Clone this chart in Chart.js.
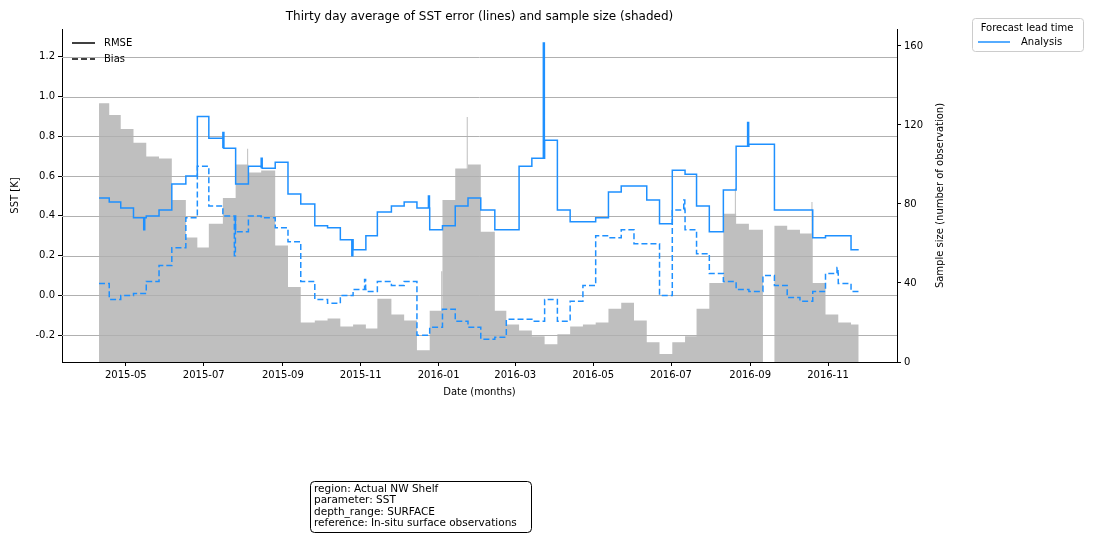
<!DOCTYPE html>
<html>
<head>
<meta charset="utf-8">
<script src="https://cdn.jsdelivr.net/npm/chart.js@4.4.1/dist/chart.umd.min.js"></script>
<style>
  html, body { margin: 0; padding: 0; background: #fff; }
  #wrap { width: 1094px; height: 540px; }
</style>
</head>
<body>
<div id="wrap"><canvas id="sstChart" width="1094" height="540"></canvas></div>
<script>
// start date of each 30-day-average step (last entry = end of series)
const stepDates = [
  '2015-04-10','2015-04-18','2015-04-27','2015-05-07','2015-05-17','2015-05-27','2015-06-06','2015-06-17','2015-06-26','2015-07-05',
  '2015-07-16','2015-07-26','2015-08-05','2015-08-15','2015-08-26','2015-09-05','2015-09-15','2015-09-26','2015-10-06','2015-10-16',
  '2015-10-26','2015-11-05','2015-11-14','2015-11-25','2015-12-05','2015-12-15','2015-12-25','2016-01-04','2016-01-14','2016-01-24',
  '2016-02-03','2016-02-14','2016-02-23','2016-03-04','2016-03-14','2016-03-24','2016-04-03','2016-04-13','2016-04-23','2016-05-03',
  '2016-05-13','2016-05-23','2016-06-02','2016-06-12','2016-06-22','2016-07-02','2016-07-12','2016-07-21','2016-07-31','2016-08-11',
  '2016-08-21','2016-08-31','2016-09-11','2016-09-20','2016-09-30','2016-10-10','2016-10-20','2016-10-30','2016-11-09','2016-11-19',
  '2016-11-25'
];

const rmse = [
  0.49,0.47,0.44,0.39,0.40,0.43,0.56,0.60,0.90,0.79,
  0.74,0.56,0.65,0.64,0.67,0.51,0.46,0.35,0.34,0.28,
  0.23,0.30,0.42,0.45,0.47,0.44,0.33,0.35,0.45,0.49,
  0.43,0.33,0.33,0.65,0.69,0.78,0.43,0.37,0.37,0.39,
  0.52,0.55,0.55,0.48,0.36,0.63,0.61,0.45,0.32,0.53,
  0.75,0.76,0.76,0.43,0.43,0.43,0.29,0.30,0.30,0.23
];

const bias = [
  0.06,-0.02,0.00,0.01,0.07,0.15,0.24,0.39,0.65,0.45,
  0.40,0.32,0.40,0.39,0.34,0.27,0.07,-0.02,-0.04,0.00,
  0.03,0.02,0.07,0.05,0.07,-0.20,-0.16,-0.07,-0.13,-0.16,
  -0.22,-0.21,-0.12,-0.12,-0.13,-0.02,-0.13,-0.03,0.05,0.30,
  0.29,0.33,0.26,0.26,0.00,0.43,0.33,0.21,0.11,0.07,
  0.03,0.02,0.10,0.05,-0.01,-0.03,0.02,0.11,0.06,0.02
];

const sampleSize = [
  131,125,118,111,104,103,82,63,58,70,
  83,100,96,97,59,38,20,21,22,18,
  19,17,32,24,21,6,26,82,98,100,
  66,26,19,16,13,9,14,18,19,20,
  27,30,21,10,4,10,13,27,40,75,
  70,67,0,69,67,65,40,24,20,19
];

// short spikes on top of the steps: [date, value]
const rmseSpikes = [['2015-05-15',0.33],['2015-07-16',0.82],['2015-08-15',0.69],['2015-10-25',0.20],['2015-12-24',0.50],['2016-03-23',1.27],['2016-08-30',0.87]];
const biasSpikes = [['2015-07-25',0.20],['2015-11-04',0.08],['2016-07-11',0.48],['2016-11-08',0.14]];
const sampleSpikes = [['2015-08-04',108],['2016-01-03',46],['2016-01-23',124],['2016-08-20',88],['2016-10-19',81]];

const monthTicks = ['2015-05','2015-07','2015-09','2015-11','2016-01','2016-03','2016-05','2016-07','2016-09','2016-11'];
const sstTicks = [-0.2,0,0.2,0.4,0.6,0.8,1.0,1.2];
const countTicks = [0,40,80,120,160];

const BLUE = '#1e90ff';
const toDay = s => Date.parse(s.length === 7 ? s + '-01' : s) / 86400000;

function steps(values, spikes) {
  const pts = stepDates.map((d, i) => ({ x: toDay(d), y: values[Math.min(i, values.length - 1)] }));
  spikes.forEach(([d, v]) => {
    const x = toDay(d);
    let k = pts.findIndex(p => p.x > x);
    if (k < 0) k = pts.length;
    const base = pts[k - 1].y;
    pts.splice(k, 0, { x: x, y: v }, { x: x + 0.8, y: base });
  });
  return pts;
}

const legendPlugin = {
  id: 'extras',
  afterDatasetDraw(chart, args) {
    if (args.index !== 0) return;
    // grid lines drawn over the shaded sample size
    const { ctx, chartArea: a, scales } = chart;
    ctx.save();
    ctx.strokeStyle = '#b0b0b0';
    ctx.lineWidth = 1;
    sstTicks.forEach(t => {
      const y = Math.round(scales.y.getPixelForValue(t)) + 0.5;
      ctx.beginPath(); ctx.moveTo(a.left, y); ctx.lineTo(a.right, y); ctx.stroke();
    });
    ctx.restore();
  },
  afterDraw(chart) {
    const { ctx, chartArea: a } = chart;
    ctx.save();
    ctx.fillStyle = '#000';
    ctx.font = '12px "DejaVu Sans"';
    ctx.textAlign = 'center';
    ctx.textBaseline = 'middle';
    ctx.fillText('Thirty day average of SST error (lines) and sample size (shaded)', (a.left + a.right) / 2, 17);
    ctx.font = '10px "DejaVu Sans"';
    ctx.fillText('Date (months)', (a.left + a.right) / 2, 392);
    ctx.save();
    ctx.translate(15, (a.top + a.bottom) / 2);
    ctx.rotate(-Math.PI / 2);
    ctx.fillText('SST [K]', 0, 0);
    ctx.restore();
    ctx.save();
    ctx.translate(940, (a.top + a.bottom) / 2);
    ctx.rotate(-Math.PI / 2);
    ctx.fillText('Sample size (number of observation)', 0, 0);
    ctx.restore();

    // RMSE / Bias key
    ctx.textAlign = 'left';
    ctx.strokeStyle = '#000';
    ctx.lineWidth = 1.5;
    ctx.beginPath(); ctx.moveTo(72, 43); ctx.lineTo(95, 43); ctx.stroke();
    ctx.setLineDash([6, 3]);
    ctx.beginPath(); ctx.moveTo(72, 59); ctx.lineTo(95, 59); ctx.stroke();
    ctx.setLineDash([]);
    ctx.fillText('RMSE', 104, 43);
    ctx.fillText('Bias', 104, 59);

    // lead time legend
    ctx.lineWidth = 1;
    ctx.strokeStyle = '#ccc';
    ctx.beginPath(); ctx.roundRect(972.5, 18.5, 111, 33, 3); ctx.stroke();
    ctx.textAlign = 'center';
    ctx.fillText('Forecast lead time', 1027, 28);
    ctx.strokeStyle = BLUE;
    ctx.lineWidth = 1.5;
    ctx.beginPath(); ctx.moveTo(978, 42); ctx.lineTo(1010, 42); ctx.stroke();
    ctx.textAlign = 'left';
    ctx.fillText('Analysis', 1021, 42);

    // info box
    ctx.strokeStyle = '#000';
    ctx.lineWidth = 1;
    ctx.fillStyle = '#fff';
    ctx.beginPath(); ctx.roundRect(310.5, 481.5, 221, 51, 4); ctx.fill(); ctx.stroke();
    ctx.fillStyle = '#000';
    ctx.font = '10.5px "DejaVu Sans"';
    ['region: Actual NW Shelf', 'parameter: SST', 'depth_range: SURFACE', 'reference: In-situ surface observations']
      .forEach((t, i) => ctx.fillText(t, 314, 489 + i * 11.5));
    ctx.restore();
  }
};

const tickFont = { family: 'DejaVu Sans', size: 10 };

new Chart(document.getElementById('sstChart').getContext('2d'), {
  type: 'line',
  data: {
    datasets: [
      {
        label: 'Sample size',
        data: steps(sampleSize, sampleSpikes),
        yAxisID: 'y2',
        stepped: true,
        fill: 'origin',
        backgroundColor: '#bfbfbf',
        borderWidth: 0,
        borderColor: 'rgba(0,0,0,0)',
        pointRadius: 0,
        order: 3
      },
      {
        label: 'RMSE',
        data: steps(rmse, rmseSpikes),
        yAxisID: 'y',
        stepped: true,
        borderColor: BLUE,
        borderWidth: 1.5,
        pointRadius: 0,
        fill: false,
        order: 2
      },
      {
        label: 'Bias',
        data: steps(bias, biasSpikes),
        yAxisID: 'y',
        stepped: true,
        borderColor: BLUE,
        borderWidth: 1.5,
        borderDash: [6, 3],
        pointRadius: 0,
        fill: false,
        order: 1
      }
    ]
  },
  options: {
    responsive: false,
    animation: false,
    layout: { padding: { top: 29, left: 0, right: 0, bottom: 0 } },
    plugins: { legend: { display: false }, title: { display: false }, tooltip: { enabled: false } },
    scales: {
      x: {
        type: 'linear',
        min: toDay('2015-03-12'),
        max: toDay('2016-12-25'),
        afterFit: s => { s.height = 178; },
        afterBuildTicks: s => { s.ticks = monthTicks.map(m => ({ value: toDay(m) })); },
        ticks: {
          font: tickFont, color: '#000', maxRotation: 0, autoSkip: false,
          callback: v => { const d = new Date(v * 86400000); return d.getUTCFullYear() + '-' + String(d.getUTCMonth() + 1).padStart(2, '0'); }
        },
        grid: { drawOnChartArea: false, tickLength: 4, color: '#000' },
        border: { color: '#000' }
      },
      y: {
        position: 'left',
        min: -0.335,
        max: 1.34,
        afterFit: s => { s.width = 62; },
        afterBuildTicks: s => { s.ticks = sstTicks.map(v => ({ value: v })); },
        ticks: { font: tickFont, color: '#000', callback: v => v.toFixed(1) },
        grid: { drawOnChartArea: false, tickLength: 4, color: '#000' },
        border: { color: '#000' }
      },
      y2: {
        position: 'right',
        min: 0,
        max: 168.6,
        afterFit: s => { s.width = 197; },
        afterBuildTicks: s => { s.ticks = countTicks.map(v => ({ value: v })); },
        ticks: { font: tickFont, color: '#000' },
        grid: { drawOnChartArea: false, tickLength: 4, color: '#000' },
        border: { color: '#000' }
      }
    }
  },
  plugins: [legendPlugin]
});
</script>
</body>
</html>
